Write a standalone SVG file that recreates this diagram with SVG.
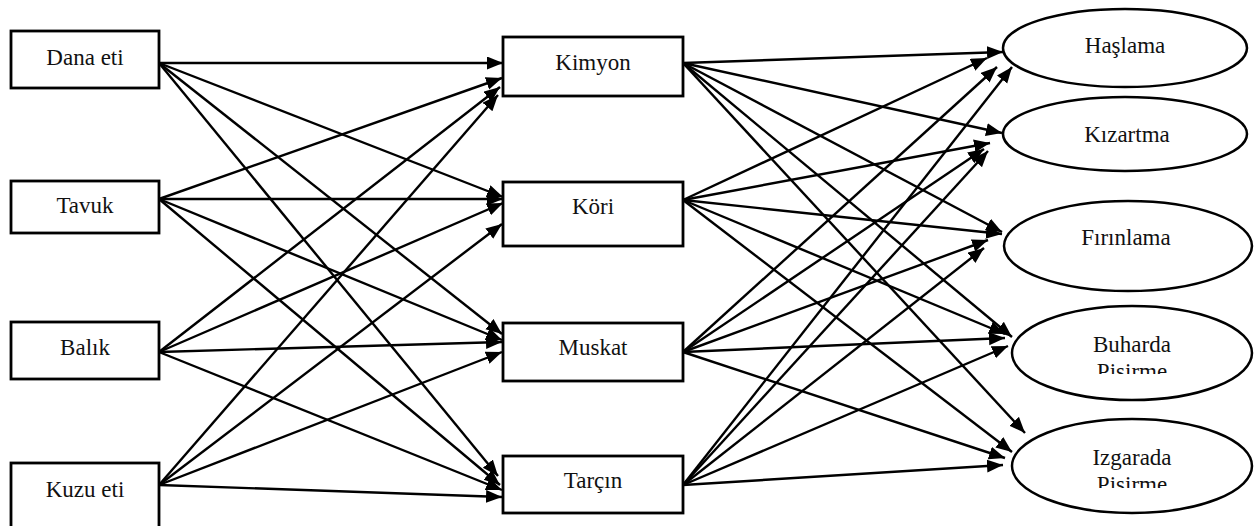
<svg xmlns="http://www.w3.org/2000/svg" width="1257" height="526" viewBox="0 0 1257 526">
  <style>
    .box { fill: #ffffff; stroke: #000000; stroke-width: 2.8; }
    .oval { fill: #ffffff; stroke: #000000; stroke-width: 2.5; }
    .lbl { font-family: 'Liberation Serif', 'DejaVu Serif', serif; font-size: 23px; fill: #111111; text-anchor: middle; }
    .edge { stroke: #000000; stroke-width: 2.4; fill: none; marker-end: url(#head); }
  </style>
  <defs>
    <marker id="head" markerUnits="userSpaceOnUse" markerWidth="17" markerHeight="14" refX="16" refY="6.5" orient="auto">
      <path d="M0,0 L16,6.5 L0,13 Z" fill="#000000"/>
    </marker>
    <clipPath id="clipBuharda"><rect x="1013" y="300" width="240" height="74"/></clipPath>
    <clipPath id="clipIzgarada"><rect x="1013" y="412" width="240" height="76"/></clipPath>
  </defs>
  <rect width="1257" height="526" fill="#ffffff"/>

  <!-- connectors: meats to spices, spices to cooking methods -->
  <g id="connectors">
    <!-- Dana eti -->
    <line class="edge" x1="159" y1="63" x2="503" y2="63"/>
    <line class="edge" x1="159" y1="63" x2="503" y2="197"/>
    <line class="edge" x1="159" y1="63" x2="502" y2="334"/>
    <line class="edge" x1="159" y1="63" x2="498" y2="476"/>
    <!-- Tavuk -->
    <line class="edge" x1="159" y1="199" x2="502" y2="78"/>
    <line class="edge" x1="159" y1="199" x2="503" y2="199"/>
    <line class="edge" x1="159" y1="199" x2="502" y2="340"/>
    <line class="edge" x1="159" y1="199" x2="500" y2="485"/>
    <!-- Balık -->
    <line class="edge" x1="159" y1="352" x2="500" y2="87"/>
    <line class="edge" x1="159" y1="352" x2="503" y2="203"/>
    <line class="edge" x1="159" y1="352" x2="502" y2="342"/>
    <line class="edge" x1="159" y1="352" x2="502" y2="490"/>
    <!-- Kuzu eti -->
    <line class="edge" x1="159" y1="485" x2="498" y2="95"/>
    <line class="edge" x1="159" y1="485" x2="502" y2="224"/>
    <line class="edge" x1="159" y1="485" x2="502" y2="352"/>
    <line class="edge" x1="159" y1="485" x2="502" y2="497"/>

    <!-- Kimyon -->
    <line class="edge" x1="683" y1="63" x2="1003" y2="52"/>
    <line class="edge" x1="683" y1="63" x2="1002" y2="133"/>
    <line class="edge" x1="683" y1="63" x2="1002" y2="232"/>
    <line class="edge" x1="683" y1="63" x2="1012" y2="337"/>
    <line class="edge" x1="683" y1="63" x2="1025" y2="433"/>
    <!-- Köri -->
    <line class="edge" x1="683" y1="200" x2="987" y2="58"/>
    <line class="edge" x1="683" y1="200" x2="990" y2="143"/>
    <line class="edge" x1="683" y1="200" x2="1002" y2="234"/>
    <line class="edge" x1="683" y1="200" x2="1005" y2="334"/>
    <line class="edge" x1="683" y1="200" x2="1012" y2="452"/>
    <!-- Muskat -->
    <line class="edge" x1="683" y1="352" x2="997" y2="67"/>
    <line class="edge" x1="683" y1="352" x2="984" y2="149"/>
    <line class="edge" x1="683" y1="352" x2="988" y2="240"/>
    <line class="edge" x1="683" y1="352" x2="1005" y2="338"/>
    <line class="edge" x1="683" y1="352" x2="1005" y2="458"/>
    <!-- Tarçın -->
    <line class="edge" x1="683" y1="485" x2="1012" y2="67"/>
    <line class="edge" x1="683" y1="485" x2="988" y2="151"/>
    <line class="edge" x1="683" y1="485" x2="984" y2="248"/>
    <line class="edge" x1="683" y1="485" x2="1008" y2="346"/>
    <line class="edge" x1="683" y1="485" x2="1003" y2="465"/>
  </g>

  <!-- meats -->
  <g id="dana-eti">
    <rect class="box" x="11" y="31" width="148" height="57"/>
    <text class="lbl" x="85" y="65">Dana eti</text>
  </g>
  <g id="tavuk">
    <rect class="box" x="11" y="181" width="148" height="52"/>
    <text class="lbl" x="85" y="213">Tavuk</text>
  </g>
  <g id="balik">
    <rect class="box" x="11" y="322" width="148" height="57"/>
    <text class="lbl" x="85" y="355">Balık</text>
  </g>
  <g id="kuzu-eti">
    <rect class="box" x="11" y="463" width="148" height="70"/>
    <text class="lbl" x="85" y="497">Kuzu eti</text>
  </g>

  <!-- spices -->
  <g id="kimyon">
    <rect class="box" x="503" y="37" width="180" height="59"/>
    <text class="lbl" x="593" y="70">Kimyon</text>
  </g>
  <g id="kori">
    <rect class="box" x="503" y="182" width="180" height="64"/>
    <text class="lbl" x="593" y="214">Köri</text>
  </g>
  <g id="muskat">
    <rect class="box" x="503" y="323" width="180" height="58"/>
    <text class="lbl" x="593" y="355">Muskat</text>
  </g>
  <g id="tarcin">
    <rect class="box" x="503" y="456" width="180" height="57"/>
    <text class="lbl" x="593" y="488">Tarçın</text>
  </g>

  <!-- cooking methods -->
  <g id="haslama">
    <ellipse class="oval" cx="1125" cy="48" rx="122" ry="39"/>
    <text class="lbl" x="1125" y="53">Haşlama</text>
  </g>
  <g id="kizartma">
    <ellipse class="oval" cx="1125" cy="134" rx="122" ry="37"/>
    <text class="lbl" x="1127" y="142">Kızartma</text>
  </g>
  <g id="firinlama">
    <ellipse class="oval" cx="1128" cy="246" rx="124" ry="45"/>
    <text class="lbl" x="1126" y="245">Fırınlama</text>
  </g>
  <g id="buharda-pisirme">
    <ellipse class="oval" cx="1132" cy="353" rx="120" ry="47"/>
    <text class="lbl" x="1132" y="352">Buharda</text>
    <text class="lbl" x="1132" y="379" clip-path="url(#clipBuharda)">Pisirme</text>
  </g>
  <g id="izgarada-pisirme">
    <ellipse class="oval" cx="1132" cy="466" rx="120" ry="47"/>
    <text class="lbl" x="1132" y="465">Izgarada</text>
    <text class="lbl" x="1132" y="492" clip-path="url(#clipIzgarada)">Pisirme</text>
  </g>
</svg>
